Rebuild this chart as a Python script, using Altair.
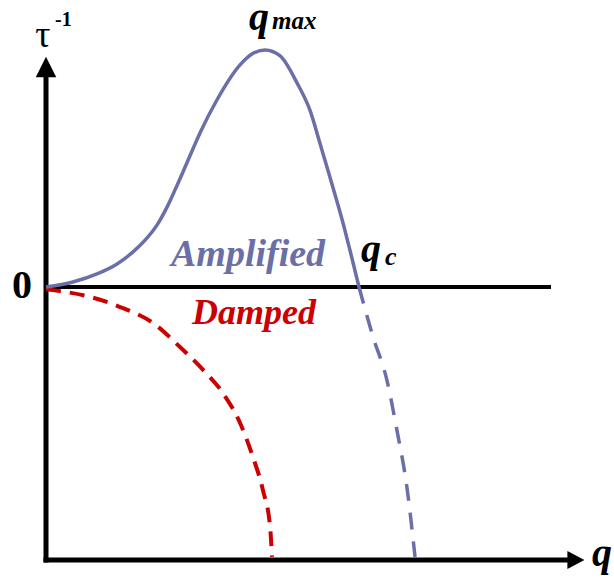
import altair as alt
import pandas as pd

# Growth rate tau^-1 versus wavenumber q
# q in units of q_c, tau^-1 in units of its maximum (reached at q_max)
amp_q = [0.0, 0.086, 0.163, 0.227, 0.278, 0.323, 0.355, 0.387, 0.412, 0.450, 0.492,
         0.546, 0.620, 0.658, 0.700, 0.748, 0.802, 0.843, 0.875, 0.907, 0.949, 0.971, 1.0]
amp_tau = [0.0, 0.021, 0.055, 0.097, 0.148, 0.207, 0.262, 0.338, 0.409, 0.523, 0.650,
           0.789, 0.937, 0.983, 1.0, 0.975, 0.861, 0.747, 0.608, 0.464, 0.270, 0.156, 0.0]

# continuation of the same branch beyond q_c (decaying modes)
amp_tail_q = [1.0, 1.045, 1.089, 1.121, 1.153, 1.179]
amp_tail_tau = [0.0, -0.211, -0.392, -0.603, -0.844, -1.139]

# damped branch
damp_q = [0.0, 0.141, 0.246, 0.342, 0.428, 0.502, 0.565, 0.620, 0.661, 0.693, 0.716, 0.722]
damp_tau = [-0.01, -0.042, -0.089, -0.152, -0.253, -0.350, -0.447, -0.574, -0.717, -0.857, -1.013, -1.139]

# frame extents, same units
Q_AXIS_END = 1.674
Q_ARROW = 1.693
ZERO_LINE_END = 1.607
TAU_AXIS_BOTTOM = -1.152
TAU_AXIS_TOP = 0.886
TAU_ARROW = 0.928

W, H = 614, 581
BLUE = "#6b6fa8"
RED = "#cc0000"
SERIF = "Liberation Serif"

xs = alt.Scale(domain=[-46 / 313, (W - 46) / 313], nice=False, zero=False)
ys = alt.Scale(domain=[-(H - 287) / 237, 287 / 237], nice=False, zero=False)


def curve(qs, taus, color, width, dash=None):
    df = pd.DataFrame({"q": qs, "tau": taus, "i": range(len(qs))})
    kw = dict(color=color, strokeWidth=width, interpolate="monotone", strokeCap="butt")
    if dash:
        kw["strokeDash"] = dash
    return alt.Chart(df).mark_line(**kw).encode(
        x=alt.X("q:Q", scale=xs, axis=None),
        y=alt.Y("tau:Q", scale=ys, axis=None),
        order="i:O",
    )


def segment(q0, q1, t0, t1, width):
    df = pd.DataFrame({"q": [q0], "q2": [q1], "t": [t0], "t2": [t1]})
    return alt.Chart(df).mark_rule(color="black", strokeWidth=width, strokeCap="square").encode(
        x=alt.X("q:Q", scale=xs, axis=None),
        x2="q2:Q",
        y=alt.Y("t:Q", scale=ys, axis=None),
        y2="t2:Q",
    )


def arrow(q, t, path, size):
    df = pd.DataFrame({"q": [q], "t": [t]})
    return alt.Chart(df).mark_point(shape=path, size=size, filled=True, color="black", opacity=1).encode(
        x=alt.X("q:Q", scale=xs, axis=None),
        y=alt.Y("t:Q", scale=ys, axis=None),
    )


def label(text, px, py, size, color="black", bold=True, italic=False, align="left"):
    kw = dict(text=text, font=SERIF, fontSize=size, color=color, align=align, baseline="alphabetic")
    if bold:
        kw["fontWeight"] = "bold"
    if italic:
        kw["fontStyle"] = "italic"
    return alt.Chart(pd.DataFrame({"k": [0]})).mark_text(**kw).encode(
        x=alt.value(px), y=alt.value(py)
    )


layers = [
    segment(0, ZERO_LINE_END, 0, 0, 4),
    segment(0, 0, TAU_AXIS_BOTTOM, TAU_AXIS_TOP, 5),
    segment(0, Q_AXIS_END, TAU_AXIS_BOTTOM, TAU_AXIS_BOTTOM, 5),
    arrow(0, TAU_ARROW, "M0,-1L1,1L-1,1Z", 420),
    arrow(Q_ARROW, TAU_AXIS_BOTTOM, "M1,0L-1,-1.05L-1,1.05Z", 290),
    curve(damp_q, damp_tau, RED, 4, [15, 9]),
    curve(amp_tail_q, amp_tail_tau, BLUE, 3.5, [17, 12]),
    curve(amp_q, amp_tau, BLUE, 3.5),
    label("τ", 43, 47, 38, bold=False, align="center"),
    label("-1", 55, 26, 20),
    label("0", 22, 298, 40, align="center"),
    label("q", 249, 30, 40, italic=True),
    label("max", 272, 29, 25, italic=True),
    label("Amplified", 171, 266, 38, color=BLUE, italic=True),
    label("Damped", 192, 324, 36, color=RED, italic=True),
    label("q", 361, 262, 40, italic=True),
    label("c", 385, 265, 26, italic=True),
    label("q", 592, 566, 40, italic=True),
]

chart = (
    alt.layer(*layers)
    .properties(width=W, height=H, autosize=alt.AutoSizeParams(type="none"), padding=0, background="white")
    .configure_view(strokeWidth=0)
)

chart.save("out.html", embed_options={"renderer": "svg", "actions": False})
